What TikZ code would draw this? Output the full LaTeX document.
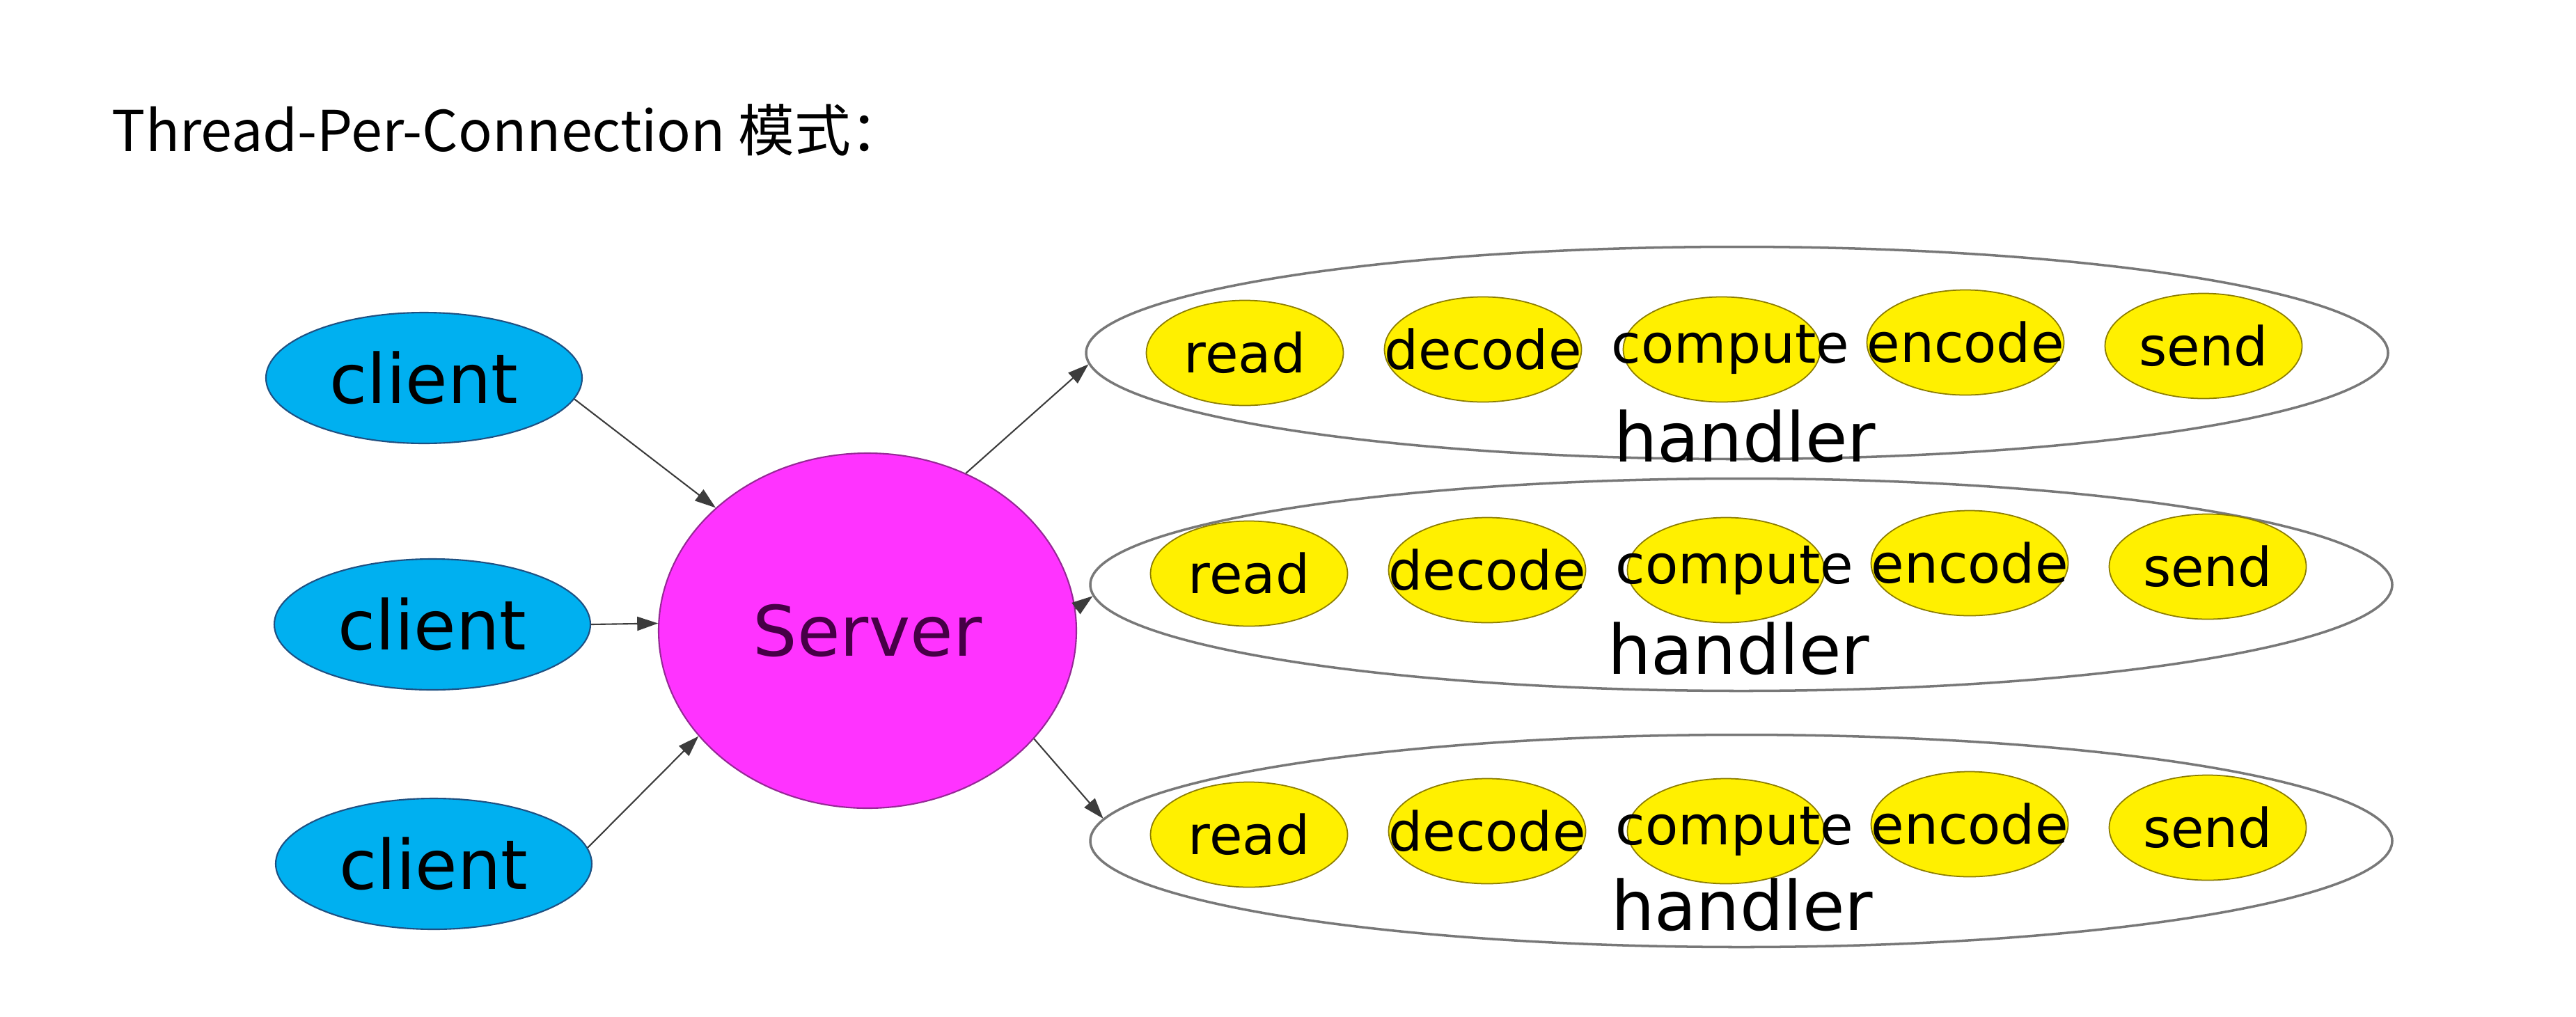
\documentclass[tikz,border=0pt]{standalone}
\usepackage{fontspec}
\setmainfont{DejaVu Sans}
\newfontfamily\cjk{Noto Sans CJK SC}
\usepackage{xcolor}
\usepackage{tikz}
\usetikzlibrary{shapes.geometric,arrows.meta}

\definecolor{clientfill}{RGB}{0,176,240}
\definecolor{clientline}{RGB}{30,80,130}
\definecolor{serverfill}{RGB}{255,51,255}
\definecolor{serverline}{RGB}{150,40,150}
\definecolor{servertext}{RGB}{70,0,70}
\definecolor{stagefill}{RGB}{255,240,0}
\definecolor{stageline}{RGB}{140,125,0}
\definecolor{handlerline}{RGB}{120,120,120}
\definecolor{arrowline}{RGB}{60,60,60}

\newcommand{\nowidth}[1]{\makebox[0pt]{#1}}

\tikzset{
  client/.style={ellipse, draw=clientline, line width=0.6pt, fill=clientfill,
    minimum width=4.54cm, minimum height=1.88cm, inner sep=0pt,
    font=\fontsize{28}{34}\selectfont},
  server/.style={ellipse, draw=serverline, line width=0.6pt, fill=serverfill,
    minimum width=6.0cm, minimum height=5.1cm, inner sep=0pt,
    text=servertext, font=\fontsize{28.5}{34}\selectfont},
  handler/.style={ellipse, draw=handlerline, line width=1pt,
    minimum width=18.7cm, minimum height=3.05cm, inner sep=0pt},
  stage/.style={ellipse, draw=stageline, line width=0.5pt, fill=stagefill,
    minimum width=2.83cm, minimum height=1.51cm, inner sep=0pt,
    font=\fontsize{22}{26}\selectfont},
  hname/.style={anchor=base, inner sep=0pt, font=\fontsize{28}{32}\selectfont},
  conn/.style={->, draw=arrowline, line width=0.6pt}
}

\begin{document}
\begin{tikzpicture}[>={Triangle[length=0.3cm,width=0.2cm]}]
\useasboundingbox (0,0) rectangle (37,-14.6);

\node[anchor=base west, inner sep=0pt, font=\cjk\fontsize{23}{28}\selectfont] (title)
  at (1.6,-2.17) {Thread-Per-Connection 模式：};

% clients and server
\node[client] (c1) at (6.09,-5.43) {client};
\node[client] (c2) at (6.21,-8.97) {client};
\node[client] (c3) at (6.23,-12.41) {client};
\node[server] (srv) at (12.46,-9.06) {Server};

% handlers
\foreach \r/\hx/\hy/\sy in {1/24.95/-5.07/-5.07, 2/25.01/-8.40/-8.24, 3/25.01/-12.08/-11.99} {
  \node[handler] (h\r) at (\hx,\hy) {};
  \foreach \s/\dx/\dy/\tx in {read/-7.07/0/0, decode/-3.65/0.05/0, compute/-0.22/0.05/0.25,
                             encode/3.28/0.15/0, send/6.70/0.10/0} {
    \node[stage] (h\r-\s) at (\hx+\dx,\sy+\dy) {\nowidth{\hspace{\tx cm}\s}};
  }
}
\node[hname] (hn1) at (25.06,-6.63) {handler};
\node[hname] (hn2) at (24.97,-9.68) {handler};
\node[hname] (hn3) at (25.02,-13.36) {handler};

% connections
\draw[conn] (c1.-8) -- (srv.141);
\draw[conn] (c2.east) -- (srv.178);
\draw[conn] (c3.6) -- (srv.-148);
\draw[conn] (srv.58) -- (h1.181);
\draw[conn] (srv.6) -- (h2.181);
\draw[conn] (srv.-33) -- (h3.178);
\end{tikzpicture}
\end{document}
